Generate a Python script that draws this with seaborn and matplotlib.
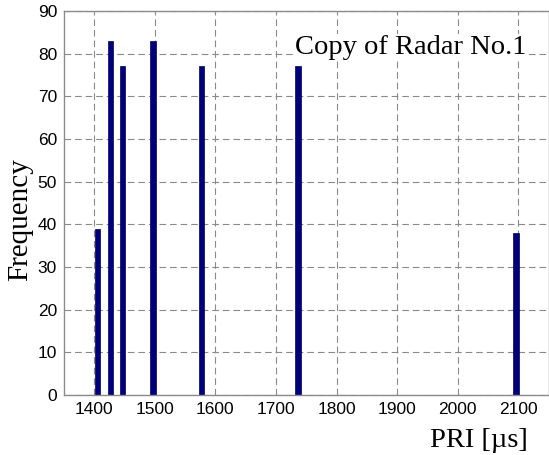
import numpy as np
import pandas as pd
import seaborn as sns
import matplotlib
matplotlib.use("Agg")
import matplotlib.pyplot as plt

# values
pri_us = [1405, 1427, 1447, 1497, 1577, 1736, 2096]
frequency = [39, 83, 77, 83, 77, 77, 38]
x_ticks = [1400, 1500, 1600, 1700, 1800, 1900, 2000, 2100]
y_ticks = [0, 10, 20, 30, 40, 50, 60, 70, 80, 90]

df = pd.DataFrame({'PRI': pri_us, 'Frequency': frequency})

sns.set_style('white')
plt.rcParams['text.color'] = 'black'
plt.rcParams['axes.labelcolor'] = 'black'
plt.rcParams['xtick.labelcolor'] = 'black'
plt.rcParams['ytick.labelcolor'] = 'black'

fig = plt.figure(figsize=(5.49, 4.55), dpi=100)
ax = fig.add_axes([0.1166, 0.1319, 0.8825, 0.8439])

sns.barplot(data=df, x='PRI', y='Frequency', native_scale=True, width=0.45,
            color='#00007f', saturation=1, edgecolor='#000050', linewidth=0.5,
            ax=ax)

ax.set_xlim(1350, 2150)
ax.set_ylim(0, 90)
ax.set_xticks(x_ticks)
ax.set_yticks(y_ticks)
ax.set_xticklabels([str(t) for t in x_ticks], fontfamily='Liberation Sans', fontsize=12.5)
ax.set_yticklabels([str(t) for t in y_ticks], fontfamily='Liberation Sans', fontsize=12.5)

ax.grid(True, color='#8a8a8a', linestyle=(0, (6, 3.5)), linewidth=0.8)
ax.set_axisbelow(True)
for s in ax.spines.values():
    s.set_color('#8a8a8a')
    s.set_linewidth(1.0)
ax.tick_params(direction='in', length=3, color='#8a8a8a', labelcolor='black',
               pad=5, top=False, right=False)

ax.set_xlabel('PRI [µs]', fontfamily='Liberation Serif', fontsize=20.5, color='black')
ax.xaxis.set_label_coords(0.856, -0.085)
ax.set_ylabel('Frequency', fontfamily='Liberation Serif', fontsize=21, color='black')
ax.yaxis.set_label_coords(-0.064, 0.458)

ax.text(0.955, 0.905, 'Copy of Radar No.1', transform=ax.transAxes,
        ha='right', va='center', fontfamily='Liberation Serif', fontsize=20.5,
        color='black', bbox=dict(facecolor='white', edgecolor='none', pad=1))

plt.savefig('out.png', dpi=100)
